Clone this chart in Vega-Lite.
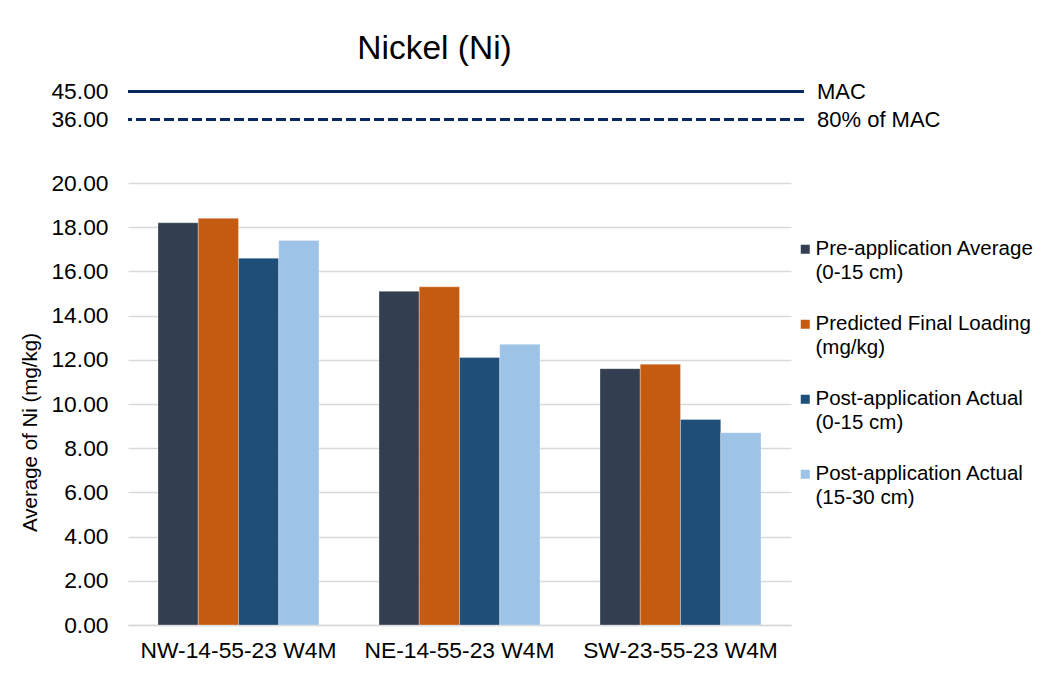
{
  "$schema": "https://vega.github.io/schema/vega-lite/v6.json",
  "background": "white",
  "padding": {"left": 20, "top": 32, "right": 0, "bottom": 0},
  "config": {
    "font": "Liberation Sans",
    "view": {"stroke": null},
    "style": {"guide-label": {"lineHeight": 24}},
    "concat": {"spacing": 40}
  },
  "resolve": {
    "scale": {"x": "independent", "y": "independent", "color": "independent"},
    "legend": {"color": "independent"}
  },
  "vconcat": [
    {
      "width": 676,
      "height": 56,
      "title": {
        "text": "Nickel (Ni)",
        "fontSize": 33.5,
        "fontWeight": "normal",
        "color": "#000000",
        "anchor": "middle",
        "frame": "group",
        "dx": -31.5,
        "offset": -16.5,
        "baseline": "alphabetic"
      },
      "data": {
        "values": [
          {"limit": "MAC", "value": 45},
          {"limit": "80% of MAC", "value": 36}
        ]
      },
      "layer": [
        {
          "mark": {"type": "rule", "strokeWidth": 3, "color": "#0b2760"},
          "encoding": {
            "y": {
              "field": "value",
              "type": "quantitative",
              "scale": {"domain": [32, 49]},
              "axis": {
                "values": [36, 45],
                "format": ".2f",
                "grid": false,
                "domain": false,
                "ticks": false,
                "tickSize": 0,
                "labelPadding": 20,
                "labelFontSize": 22.8,
                "labelColor": "#000000",
                "title": null
              }
            },
            "strokeDash": {
              "field": "limit",
              "type": "nominal",
              "scale": {"domain": ["MAC", "80% of MAC"], "range": [[1, 0], [10, 4]]},
              "legend": null
            }
          }
        },
        {
          "mark": {"type": "text", "align": "left", "baseline": "middle", "dx": 13, "fontSize": 22, "color": "#000000"},
          "encoding": {
            "x": {"value": "width"},
            "y": {"field": "value", "type": "quantitative"},
            "text": {"field": "limit"}
          }
        }
      ]
    },
    {
      "width": 663,
      "height": 442,
      "data": {
        "values": [
          {"site": "NW-14-55-23 W4M", "series": "Pre-application Average (0-15 cm)", "value": 18.2},
          {"site": "NW-14-55-23 W4M", "series": "Predicted Final Loading (mg/kg)", "value": 18.4},
          {"site": "NW-14-55-23 W4M", "series": "Post-application Actual (0-15 cm)", "value": 16.6},
          {"site": "NW-14-55-23 W4M", "series": "Post-application Actual (15-30 cm)", "value": 17.4},
          {"site": "NE-14-55-23 W4M", "series": "Pre-application Average (0-15 cm)", "value": 15.1},
          {"site": "NE-14-55-23 W4M", "series": "Predicted Final Loading (mg/kg)", "value": 15.3},
          {"site": "NE-14-55-23 W4M", "series": "Post-application Actual (0-15 cm)", "value": 12.1},
          {"site": "NE-14-55-23 W4M", "series": "Post-application Actual (15-30 cm)", "value": 12.7},
          {"site": "SW-23-55-23 W4M", "series": "Pre-application Average (0-15 cm)", "value": 11.6},
          {"site": "SW-23-55-23 W4M", "series": "Predicted Final Loading (mg/kg)", "value": 11.8},
          {"site": "SW-23-55-23 W4M", "series": "Post-application Actual (0-15 cm)", "value": 9.3},
          {"site": "SW-23-55-23 W4M", "series": "Post-application Actual (15-30 cm)", "value": 8.7}
        ]
      },
      "mark": {"type": "bar", "stroke": "#ffffff", "strokeWidth": 0.6, "strokeOpacity": 0.5},
      "encoding": {
        "x": {
          "field": "site",
          "type": "nominal",
          "sort": ["NW-14-55-23 W4M", "NE-14-55-23 W4M", "SW-23-55-23 W4M"],
          "scale": {"paddingInner": 0.2715, "paddingOuter": 0.1357},
          "axis": {
            "title": null,
            "labelAngle": 0,
            "ticks": false,
            "tickSize": 0,
            "domainColor": "#d9d9d9",
            "domainWidth": 1.5,
            "labelPadding": 14,
            "labelFontSize": 22.8,
            "labelLimit": 400,
            "labelColor": "#000000"
          }
        },
        "xOffset": {
          "field": "series",
          "type": "nominal",
          "sort": [
            "Pre-application Average (0-15 cm)",
            "Predicted Final Loading (mg/kg)",
            "Post-application Actual (0-15 cm)",
            "Post-application Actual (15-30 cm)"
          ],
          "scale": {"paddingInner": 0, "paddingOuter": 0}
        },
        "y": {
          "field": "value",
          "type": "quantitative",
          "scale": {"domain": [0, 20], "nice": false},
          "axis": {
            "values": [0, 2, 4, 6, 8, 10, 12, 14, 16, 18, 20],
            "format": ".2f",
            "title": "Average of Ni (mg/kg)",
            "titleFontSize": 20.5,
            "titleFontWeight": "normal",
            "titleColor": "#000000",
            "titleX": -92,
            "titleY": 249,
            "titleAlign": "center",
            "titleBaseline": "alphabetic",
            "titleAngle": 270,
            "gridColor": "#d9d9d9",
            "gridWidth": 1.5,
            "domain": false,
            "ticks": false,
            "tickSize": 0,
            "labelPadding": 20,
            "labelFontSize": 22.8,
            "labelColor": "#000000"
          }
        },
        "color": {
          "field": "series",
          "type": "nominal",
          "scale": {
            "domain": [
              "Pre-application Average (0-15 cm)",
              "Predicted Final Loading (mg/kg)",
              "Post-application Actual (0-15 cm)",
              "Post-application Actual (15-30 cm)"
            ],
            "range": ["#333f50", "#c55a11", "#1f4e79", "#9dc3e6"]
          },
          "legend": {
            "orient": "none",
            "legendX": 667,
            "legendY": 56,
            "title": null,
            "padding": 0,
            "symbolType": "square",
            "symbolSize": 81,
            "symbolStrokeWidth": 0,
            "labelFontSize": 20.5,
            "labelColor": "#000000",
            "labelOffset": 0,
            "labelLimit": 400,
            "rowPadding": 30,
            "labelExpr": "[slice(datum.label, 0, indexof(datum.label, ' (')), slice(datum.label, indexof(datum.label, ' (') + 1)]"
          }
        }
      }
    }
  ]
}
